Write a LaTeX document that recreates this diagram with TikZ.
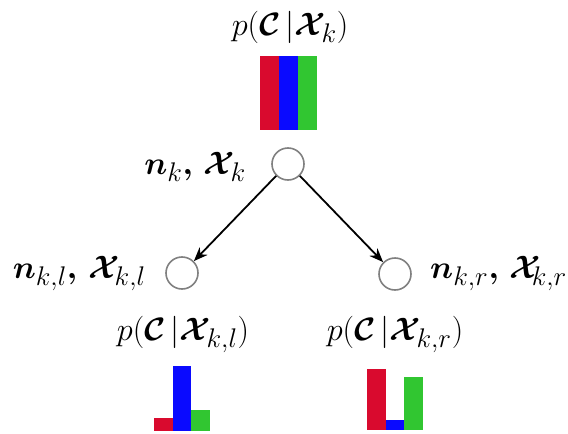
\documentclass[tikz,border=0pt]{standalone}
\usepackage{amsmath,bm,graphicx}
\usetikzlibrary{arrows.meta}
\definecolor{barred}{HTML}{D90A2E}
\definecolor{barblue}{HTML}{0A0AFF}
\definecolor{bargreen}{HTML}{31C631}
\definecolor{nodegray}{HTML}{808080}
\newcommand{\biglab}[1]{\scalebox{1.3}{\Huge$#1$}}
\newcommand{\bX}{\bm{\mathcal{X}}}
\tikzset{
  treenode/.style={circle,draw=nodegray,line width=1.6pt,minimum size=32pt,inner sep=0pt},
  lab/.style={inner sep=0pt},
  edge/.style={-{Stealth[length=14pt,width=11pt]},line width=1.8pt}
}
\begin{document}
\begin{tikzpicture}[x=1pt,y=-1pt]
\useasboundingbox (0,0) rectangle (568,434);
% nodes
\node[treenode] (top) at (288,164) {};
\node[treenode] (left) at (182,273) {};
\node[treenode] (right) at (395,274) {};
% labels
\node[lab,anchor=base] (ptop) at (290,35) {\biglab{p(\bm{\mathcal{C}}\,|\bX_{\!k})}};
\node[lab,anchor=base east] (ltop) at (246,174) {\biglab{\bm{n}_k\bm{,}\,\bX_{\!k}}};
\node[lab,anchor=base east] (lleft) at (146,278) {\biglab{\bm{n}_{k,l}\bm{,}\,\bX_{\!k,l}}};
\node[lab,anchor=base west] (lright) at (430,278) {\biglab{\bm{n}_{k,r}\bm{,}\,\bX_{\!\!k,r}}};
\node[lab,anchor=base] (pleft) at (183,340) {\biglab{p(\bm{\mathcal{C}}\,|\bX_{\!k,l})}};
\node[lab,anchor=base] (pright) at (395,340) {\biglab{p(\bm{\mathcal{C}}\,|\bX_{\!k,r})}};
% edges
\draw[edge] (top.225) -- (left.45);
\draw[edge] (top.-45) -- (right.135);
% histograms
\fill[barred] (260,56) rectangle (279,130);
\fill[barblue] (279,56) rectangle (298,130);
\fill[bargreen] (298,56) rectangle (317,130);
\fill[barred] (154,418) rectangle (173,431);
\fill[barblue] (173,366) rectangle (191,431);
\fill[bargreen] (191,410) rectangle (210,431);
\fill[barred] (367,369) rectangle (386,430);
\fill[barblue] (386,420) rectangle (404,430);
\fill[bargreen] (404,377) rectangle (423,430);
\end{tikzpicture}
\end{document}
